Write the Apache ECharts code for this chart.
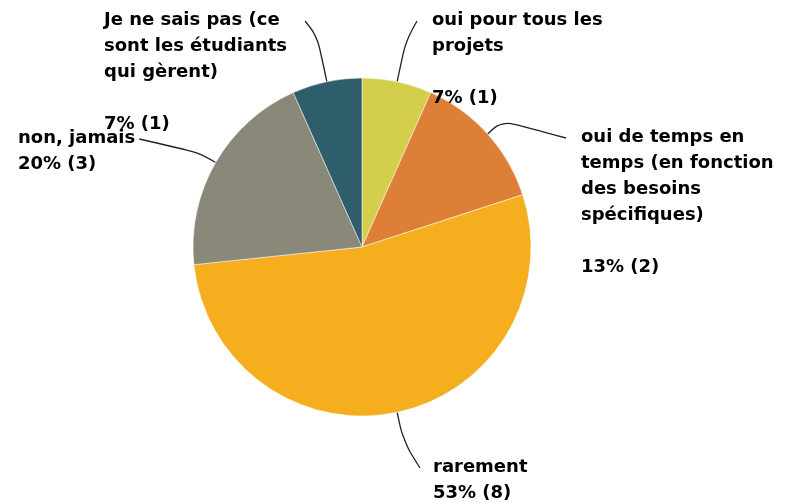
<!DOCTYPE html>
<html>
<head>
<meta charset="utf-8">
<script src="https://cdn.jsdelivr.net/npm/echarts@6/dist/echarts.min.js"></script>
<style>
  html, body { margin: 0; padding: 0; background: #fff; }
  #chart { width: 785px; height: 503px; }
</style>
</head>
<body>
<div id="chart"></div>
<script>
// réponses (sens horaire depuis le haut)
var categories = [
  'oui pour tous les\nprojets',
  'oui de temps en\ntemps (en fonction\ndes besoins\nspécifiques)',
  'rarement',
  'non, jamais',
  'Je ne sais pas (ce\nsont les étudiants\nqui gèrent)'
];
var counts = [1, 2, 8, 3, 1];
var colors = ['#d3cf4d', '#de7f38', '#f5ae1e', '#8a8878', '#2e5d6b'];
// ligne vide entre le libellé et le pourcentage ?
var blankLine = [true, true, false, false, true];

var total = counts.reduce(function (a, b) { return a + b; }, 0);

// mise en page des étiquettes : coin haut-gauche, côté d'accroche du trait, écart, longueur radiale
var labelPos = [[432, 7], [581, 124], [433, 454], [18, 125], [104, 7]];
var lineSide = ['left', 'left', 'left', 'right', 'right'];
var lineGap = [15, 15, 13, 4, 18];
var lineLen = [42, 20, 30, 20, 46];

var center = [362, 247];
var lineHeight = 26;

var chart = echarts.init(document.getElementById('chart'));
chart.setOption({
  animation: false,
  series: [{
    type: 'pie',
    center: center,
    radius: 169,
    startAngle: 90,
    clockwise: true,
    avoidLabelOverlap: false,
    itemStyle: { borderColor: '#ffffff', borderWidth: 0.5 },
    label: {
      show: true,
      fontFamily: 'DejaVu Sans',
      fontWeight: 'bold',
      fontSize: 18,
      lineHeight: lineHeight,
      color: '#000',
      align: 'left',
      formatter: function (p) {
        var pct = Math.round(p.value / total * 100);
        return p.name + (blankLine[p.dataIndex] ? '\n\n' : '\n') + pct + '% (' + p.value + ')';
      }
    },
    labelLine: {
      show: true,
      smooth: 0.35,
      lineStyle: { color: '#222', width: 1.3 }
    },
    labelLayout: function (p) {
      var i = p.dataIndex;
      var pos = labelPos[i];
      var start = p.labelLinePoints[0];
      var dx = start[0] - center[0], dy = start[1] - center[1];
      var d = Math.sqrt(dx * dx + dy * dy);
      var mid = [start[0] + dx / d * lineLen[i], start[1] + dy / d * lineLen[i]];
      var endX = lineSide[i] === 'left' ? pos[0] - lineGap[i] : pos[0] + p.labelRect.width + lineGap[i];
      var end = [endX, pos[1] + lineHeight / 2 + 1];
      return {
        x: pos[0], y: pos[1], align: 'left', verticalAlign: 'top',
        labelLinePoints: [start, mid, end]
      };
    },
    data: categories.map(function (name, i) {
      return { name: name, value: counts[i], itemStyle: { color: colors[i] } };
    })
  }]
});
</script>
</body>
</html>
